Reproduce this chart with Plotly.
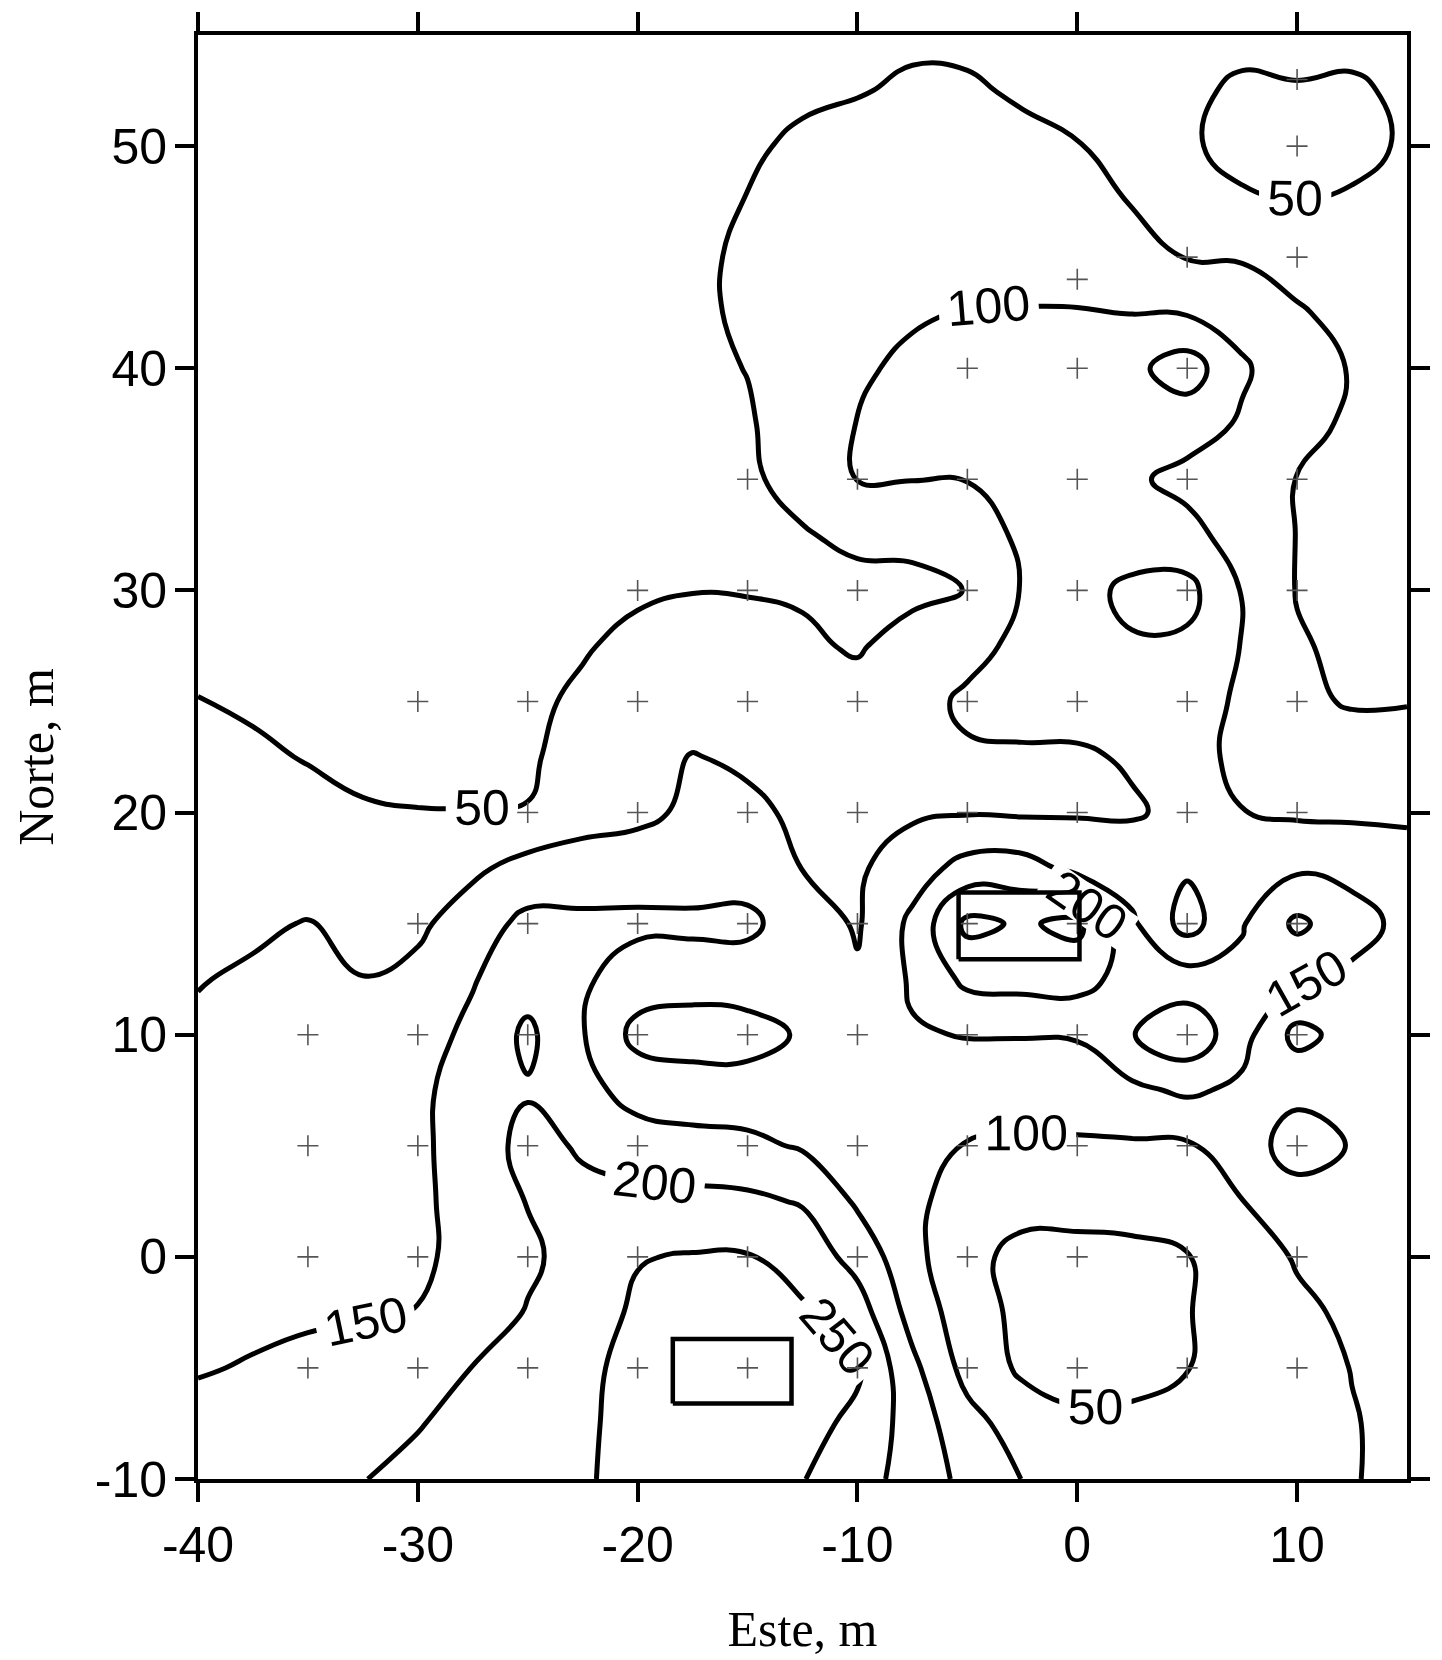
import plotly.graph_objects as go

# Grid nodes (m)
x_nodes = [-40, -37.5, -35, -32.5, -30, -27.5, -25, -22.5, -20, -17.5, -15, -12.5,
           -10, -7.5, -5, -2.5, 0, 2.5, 5, 7.5, 10, 12.5, 15]
y_nodes = [-10, -7.5, -5, -2.5, 0, 2.5, 5, 7.5, 10, 12.5, 15, 17.5, 20, 22.5, 25,
           27.5, 30, 32.5, 35, 37.5, 40, 42.5, 45, 47.5, 50, 52.5, 55]

# Values, one row per northing (south to north)
z_rows = [
    [163, 168, 180, 199, 210, 220, 232, 246, 262, 270, 270, 252, 220, 181, 136, 99, 80, 78, 80, 84, 90, 98, 110],
    [159, 160, 171, 180, 198, 212, 227, 243, 265, 272, 272, 266, 239, 178, 117, 77, 59, 62, 60, 69, 82, 98, 110],
    [148, 152, 157, 163, 177, 201, 219, 240, 264, 270, 270, 266, 257, 162, 83, 42, 30, 32, 49, 71, 84, 101, 110],
    [141, 144, 146, 147, 151, 173, 203, 232, 256, 262, 262, 256, 224, 131, 72, 38, 30, 35, 48, 69, 91, 108, 115],
    [135, 140, 143, 145, 144, 161, 191, 221, 248, 253, 253, 231, 182, 115, 60, 40, 40, 42, 48, 76, 104, 118, 125],
    [128, 132, 137, 139, 144, 162, 202, 211, 216, 214, 210, 196, 143, 111, 77, 62, 62, 63, 72, 99, 129, 136, 130],
    [120, 125, 129, 134, 140, 175, 214, 195, 172, 166, 161, 145, 129, 112, 98, 93, 93, 94, 94, 126, 172, 147, 137],
    [113, 118, 122, 128, 141, 170, 196, 165, 132, 123, 122, 123, 127, 128, 123, 123, 128, 140, 158, 140, 138, 133, 128],
    [107, 112, 114, 119, 132, 160, 210, 153, 85, 78, 80, 106, 123, 146, 152, 152, 153, 198, 235, 168, 85, 119, 125],
    [98, 106, 101, 101, 114, 147, 179, 157, 126, 119, 126, 122, 106, 156, 212, 218, 221, 177, 173, 163, 157, 140, 137],
    [89, 93, 102, 85, 90, 128, 162, 160, 160, 162, 160, 125, 95, 161, 262, 244, 262, 158, 80, 146, 210, 169, 136],
    [80, 81, 83, 71, 76, 90, 119, 123, 126, 119, 130, 99, 93, 127, 168, 170, 136, 125, 106, 133, 142, 136, 121],
    [71, 67, 62, 53, 51, 51, 51, 80, 89, 109, 110, 91, 90, 93, 97, 94, 96, 96, 110, 101, 93, 92, 92],
    [60, 56, 48, 42, 40, 40, 46, 62, 81, 102, 92, 85, 78, 86, 95, 95, 95, 104, 118, 88, 71, 68, 69],
    [51, 45, 41, 36, 32, 34, 43, 56, 75, 85, 79, 66, 65, 85, 107, 114, 115, 120, 120, 93, 57, 47, 48],
    [40, 37, 33, 30, 25, 32, 40, 47, 59, 67, 65, 56, 46, 67, 87, 110, 131, 146, 141, 98, 54, 41, 38],
    [30, 28, 25, 22, 22, 28, 36, 40, 45, 49, 48, 46, 38, 40, 51, 103, 135, 160, 165, 97, 48, 38, 32],
    [22, 21, 20, 20, 22, 25, 30, 34, 39, 40, 42, 47, 59, 60, 80, 107, 128, 125, 114, 80, 49, 39, 33],
    [18, 18, 18, 18, 18, 20, 22, 24, 28, 36, 44, 63, 101, 101, 101, 111, 120, 107, 87, 72, 49, 39, 32],
    [18, 18, 18, 18, 18, 20, 22, 25, 30, 38, 46, 71, 101, 111, 112, 118, 125, 127, 121, 95, 62, 44, 36],
    [18, 18, 18, 18, 18, 20, 22, 26, 32, 41, 51, 73, 95, 107, 112, 117, 124, 138, 175, 106, 72, 47, 38],
    [18, 18, 18, 18, 18, 20, 23, 27, 34, 44, 55, 73, 89, 96, 102, 102, 102, 99, 96, 82, 52, 44, 38],
    [18, 18, 18, 18, 18, 20, 23, 27, 34, 44, 55, 70, 83, 85, 87, 85, 81, 70, 48, 46, 42, 40, 37],
    [18, 18, 18, 18, 18, 19, 22, 26, 32, 41, 51, 64, 74, 76, 75, 71, 64, 48, 42, 47, 49.5, 47, 42],
    [18, 18, 18, 18, 18, 20, 22, 25, 30, 38, 45, 56, 63, 64, 63, 58, 51, 44, 47, 57, 61, 57, 47],
    [20, 20, 20, 20, 20, 22, 24, 26, 28, 31, 38, 44, 48, 55, 54, 46, 40, 35, 44, 55, 52, 54, 45],
    [20, 20, 20, 20, 20, 20, 20, 22, 24, 27, 30, 35, 40, 44, 43, 39, 32, 30, 38, 41, 41, 42, 39],
]

# Measurement stations (+)
station_x = [10, 10,
             0, 5, 10,
             -5, 0, 5,
             -15, -10, -5, 0, 5, 10,
             -20, -15, -10, -5, 0, 5, 10,
             -30, -25, -20, -15, -10, -5, 0, 5, 10,
             -25, -20, -15, -10, -5, 0, 5, 10,
             -30, -25, -20, -15, -10, -5, 0, 5, 10,
             -35, -30, -25, -20, -15, -10, -5, 0, 5, 10,
             -35, -30, -25, -20, -15, -10, -5, 0, 5, 10,
             -35, -30, -25, -20, -15, -10, -5, 0, 5, 10,
             -35, -30, -25, -20, -15, -10, -5, 0, 5, 10]
station_y = [53, 50,
             44, 45, 45,
             40, 40, 40,
             35, 35, 35, 35, 35, 35,
             30, 30, 30, 30, 30, 30, 30,
             25, 25, 25, 25, 25, 25, 25, 25, 25,
             20, 20, 20, 20, 20, 20, 20, 20,
             15, 15, 15, 15, 15, 15, 15, 15, 15,
             10, 10, 10, 10, 10, 10, 10, 10, 10, 10,
             5, 5, 5, 5, 5, 5, 5, 5, 5, 5,
             0, 0, 0, 0, 0, 0, 0, 0, 0, 0,
             -5, -5, -5, -5, -5, -5, -5, -5, -5, -5]

# Structures (rectangles)
struct_a_x = [-18.4, -13.0, -13.0, -18.4, -18.4]
struct_a_y = [-6.6, -6.6, -3.7, -3.7, -6.6]
struct_b_x = [-5.4, 0.1, 0.1, -5.4, -5.4]
struct_b_y = [13.4, 13.4, 16.4, 16.4, 13.4]

x_ticks = [-40, -30, -20, -10, 0, 10]
x_ticktext = ["-40", "-30", "-20", "-10", "0", "10"]
y_ticks = [-10, 0, 10, 20, 30, 40, 50]
y_ticktext = ["-10", "0", "10", "20", "30", "40", "50"]

fig = go.Figure()

fig.add_trace(go.Contour(
    x=x_nodes, y=y_nodes, z=z_rows,
    contours=dict(start=50, end=250, size=50, coloring="none",
                  showlabels=True,
                  labelfont=dict(family="Liberation Sans, Arial", size=50, color="black")),
    line=dict(color="black", width=5, smoothing=1.3),
    showscale=False, hoverinfo="skip",
))

fig.add_trace(go.Scatter(
    x=station_x, y=station_y, mode="markers",
    marker=dict(symbol="cross-thin", size=15, line=dict(color="#555555", width=1.6)),
    hoverinfo="skip", showlegend=False,
))

for sx, sy in ((struct_a_x, struct_a_y), (struct_b_x, struct_b_y)):
    fig.add_trace(go.Scatter(x=sx, y=sy, mode="lines",
                             line=dict(color="black", width=4.5),
                             hoverinfo="skip", showlegend=False))

axis_common = dict(
    showline=True, linecolor="black", linewidth=4, mirror="allticks",
    ticks="outside", ticklen=19, tickwidth=4, tickcolor="black",
    showgrid=False, zeroline=False,
    tickfont=dict(family="Liberation Sans, Arial", size=50, color="black"),
)

fig.update_layout(
    width=1442, height=1660,
    margin=dict(l=198, r=16, t=34, b=164),
    paper_bgcolor="white", plot_bgcolor="white",
    showlegend=False,
    xaxis=dict(range=[-40, 15], tickvals=x_ticks, ticktext=x_ticktext, ticklabelstandoff=0,
               title=dict(text="Este, m", standoff=40,
                          font=dict(family="Liberation Serif, Times New Roman", size=50, color="black")),
               **axis_common),
    yaxis=dict(range=[-10, 55], tickvals=y_ticks, ticktext=y_ticktext, ticklabelstandoff=-2,
               title=dict(text="Norte, m", standoff=26,
                          font=dict(family="Liberation Serif, Times New Roman", size=50, color="black")),
               **axis_common),
)

fig.write_html("out.html")
